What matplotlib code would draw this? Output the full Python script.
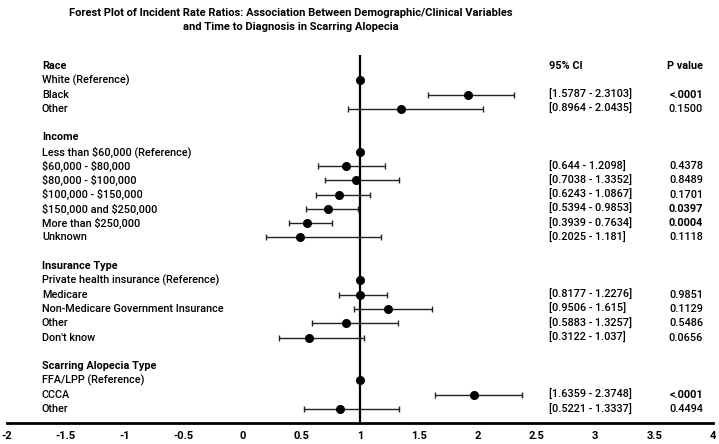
import matplotlib
matplotlib.use("Agg")
import matplotlib.pyplot as plt
import matplotlib.transforms as mtransforms
from matplotlib import font_manager

# ---------------- data ----------------
labels = ["Race", "White (Reference)", "Black", "Other", "",
          "Income", "Less than $60,000 (Reference)", "$60,000 - $80,000",
          "$80,000 - $100,000", "$100,000 - $150,000", "$150,000 and $250,000",
          "More than $250,000", "Unknown", "",
          "Insurance Type", "Private health insurance (Reference)", "Medicare",
          "Non-Medicare Government Insurance", "Other", "Don't know", "",
          "Scarring Alopecia Type", "FFA/LPP (Reference)", "CCCA", "Other"]
headers = ["Race", "Income", "Insurance Type", "Scarring Alopecia Type"]
irr = [None, 1.0, 1.92, 1.35, None,
       None, 1.0, 0.88, 0.97, 0.82, 0.73, 0.55, 0.49, None,
       None, 1.0, 1.0, 1.24, 0.88, 0.57, None,
       None, 1.0, 1.97, 0.83]
ci_low = [None, None, 1.5787, 0.8964, None,
          None, None, 0.644, 0.7038, 0.6243, 0.5394, 0.3939, 0.2025, None,
          None, None, 0.8177, 0.9506, 0.5883, 0.3122, None,
          None, None, 1.6359, 0.5221]
ci_high = [None, None, 2.3103, 2.0435, None,
           None, None, 1.2098, 1.3352, 1.0867, 0.9853, 0.7634, 1.181, None,
           None, None, 1.2276, 1.615, 1.3257, 1.037, None,
           None, None, 2.3748, 1.3337]
ci_text = ["", "", "[1.5787 - 2.3103]", "[0.8964 - 2.0435]", "",
           "", "", "[0.644 - 1.2098]", "[0.7038 - 1.3352]", "[0.6243 - 1.0867]",
           "[0.5394 - 0.9853]", "[0.3939 - 0.7634]", "[0.2025 - 1.181]", "",
           "", "", "[0.8177 - 1.2276]", "[0.9506 - 1.615]", "[0.5883 - 1.3257]",
           "[0.3122 - 1.037]", "",
           "", "", "[1.6359 - 2.3748]", "[0.5221 - 1.3337]"]
p_text = ["", "", "<.0001", "0.1500", "",
          "", "", "0.4378", "0.8489", "0.1701", "0.0397", "0.0004", "0.1118", "",
          "", "", "0.9851", "0.1129", "0.5486", "0.0656", "",
          "", "", "<.0001", "0.4494"]
p_bold = ["<.0001", "0.0397", "0.0004"]
xticks = [-2, -1.5, -1, -0.5, 0, 0.5, 1, 1.5, 2, 2.5, 3, 3.5, 4]

# ---------------- fonts ----------------
avail = {f.name for f in font_manager.fontManager.ttflist}
fam = "Liberation Sans Narrow" if "Liberation Sans Narrow" in avail else "Roboto"
plt.rcParams["font.family"] = [fam, "DejaVu Sans"]
reg = "medium"

fig = plt.figure(figsize=(7.19, 4.44), dpi=100)
ax = fig.add_axes([7 / 719, 1 - 423 / 444, 706 / 719, (423 - 55) / 444])

n = len(labels)
for i in range(n):
    if irr[i] is None:
        continue
    if ci_low[i] is not None:
        ax.errorbar(irr[i], i, xerr=[[irr[i] - ci_low[i]], [ci_high[i] - irr[i]]],
                    fmt="o", color="black", ecolor="#222222", elinewidth=1.0,
                    capsize=2.5, capthick=1.0, markersize=5.5, zorder=3)
    else:
        ax.plot(irr[i], i, "o", color="black", markersize=5.5, zorder=3)

ax.axvline(1, color="black", lw=1.6, zorder=2)
ax.set_xlim(-2, 4)
ax.set_ylim(24.98, -0.77)
ax.set_xticks(xticks)
ax.set_xticklabels([f"{t:g}" for t in xticks], fontsize=8, fontweight="bold")
ax.tick_params(axis="x", length=0, pad=6)
ax.set_yticks([])
for s in ["top", "left", "right"]:
    ax.spines[s].set_visible(False)
ax.spines["bottom"].set_linewidth(2.0)

trans = mtransforms.blended_transform_factory(fig.transFigure, ax.transData)
fs = 7.8
for i, lab in enumerate(labels):
    if not lab:
        continue
    bold = lab in headers
    ax.text(42 / 719, i, lab, transform=trans, ha="left", va="center",
            fontsize=fs, fontweight="bold" if bold else reg, parse_math=False)
    if ci_text[i]:
        ax.text(549 / 719, i, ci_text[i], transform=trans, ha="left", va="center",
                fontsize=fs, fontweight=reg, parse_math=False)
    if p_text[i]:
        ax.text(703 / 719, i, p_text[i], transform=trans, ha="right", va="center",
                fontsize=fs, fontweight="bold" if p_text[i] in p_bold else reg,
                parse_math=False)

ax.text(549 / 719, 0, "95% CI", transform=trans, ha="left", va="center",
        fontsize=fs, fontweight="bold")
ax.text(703 / 719, 0, "P value", transform=trans, ha="right", va="center",
        fontsize=fs, fontweight="bold")

fig.text(291 / 719, 1 - 20 / 444,
         "Forest Plot of Incident Rate Ratios: Association Between Demographic/Clinical Variables\nand Time to Diagnosis in Scarring Alopecia",
         ha="center", va="center", fontsize=8.0, fontweight="bold", linespacing=1.55)

fig.savefig("out.png", dpi=100)
